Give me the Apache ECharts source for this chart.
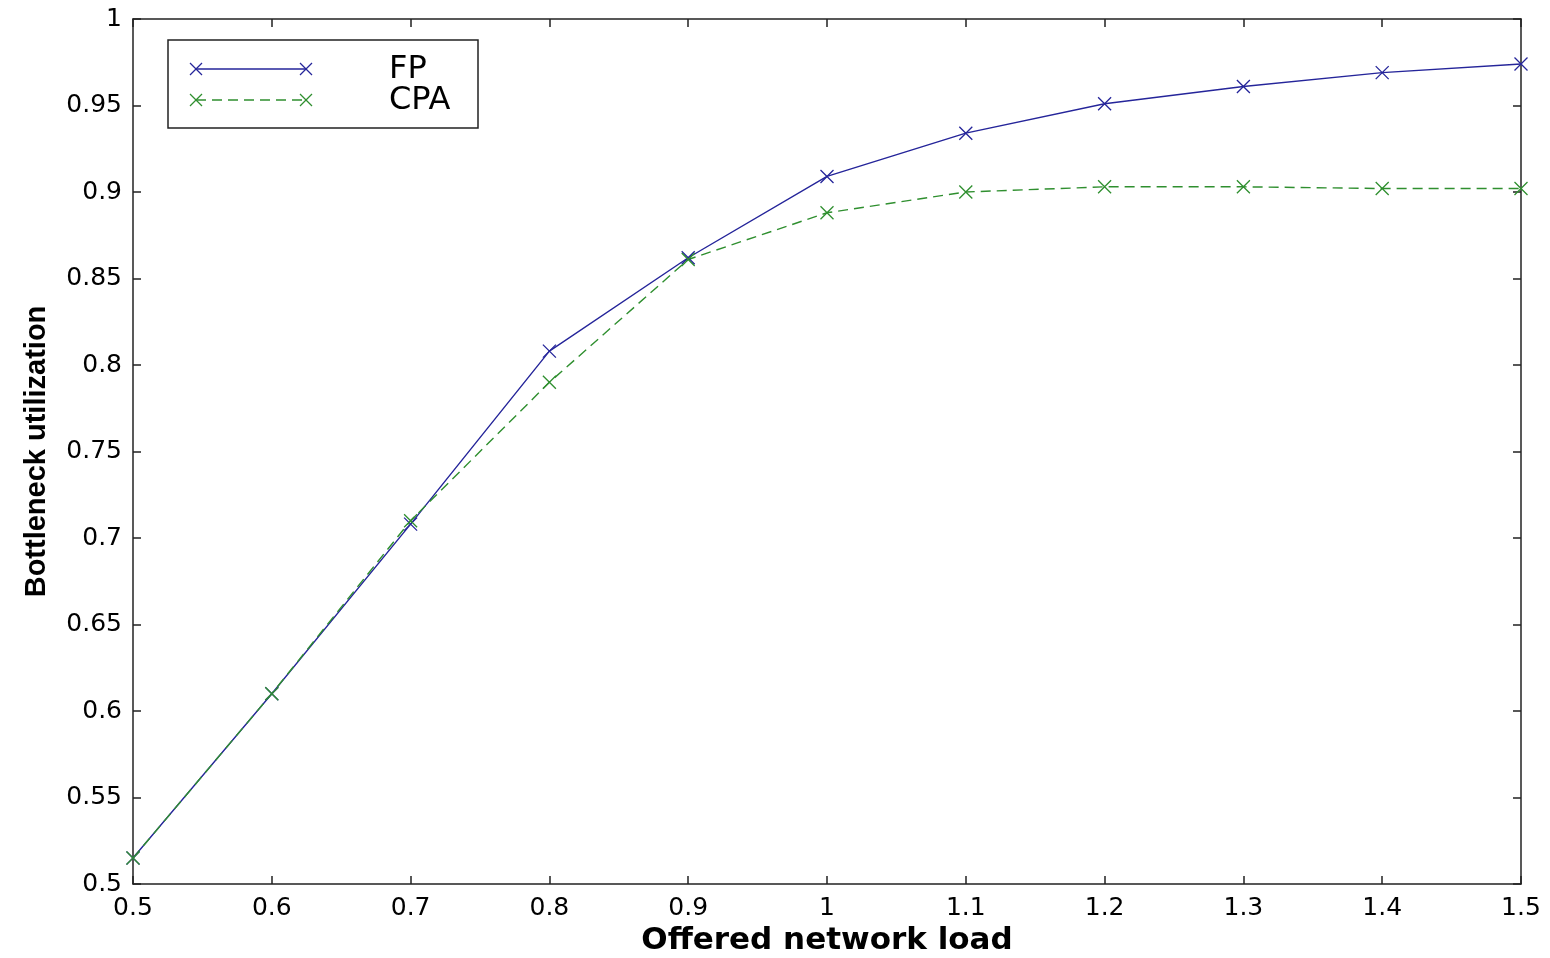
<!DOCTYPE html>
<html>
<head>
<meta charset="utf-8">
<script src="https://cdn.jsdelivr.net/npm/echarts@6/dist/echarts.min.js"></script>
<style>
  html, body { margin: 0; padding: 0; background: #fff; }
  #chart { width: 1550px; height: 958px; }
</style>
</head>
<body>
<div id="chart"></div>
<script>
// data
const loads = [0.5, 0.6, 0.7, 0.8, 0.9, 1.0, 1.1, 1.2, 1.3, 1.4, 1.5]
const fpValues = [0.515, 0.61, 0.708, 0.808, 0.862, 0.909, 0.934, 0.951, 0.961, 0.969, 0.974]
const cpaValues = [0.515, 0.61, 0.71, 0.790, 0.861, 0.888, 0.900, 0.903, 0.903, 0.902, 0.902]
const seriesNames = ['FP', 'CPA']

const FP_COLOR = '#25259a'
const CPA_COLOR = '#2f8f2f'
const crossSymbol = 'path://M0,0L10,10M10,0L0,10'
const wide = 'DejaVu Sans, sans-serif'
const plain = 'Liberation Sans, Arial, sans-serif'

const chart = echarts.init(document.getElementById('chart'))

const pairs = (ys) => loads.map((x, i) => [x, ys[i]])

const axisCommon = {
  axisLine: { show: true, lineStyle: { color: '#222', width: 1.5 } },
  axisTick: { show: true, inside: true, length: 8, lineStyle: { color: '#222', width: 1.5 } },
  splitLine: { show: false }
}

// legend drawn by hand: line with crosses at both ends, like the original
const legendY = [69, 100]
const legendColors = [FP_COLOR, CPA_COLOR]
const legendGraphics = [{
  type: 'rect',
  shape: { x: 168, y: 40, width: 310, height: 88 },
  style: { fill: '#fff', stroke: '#222', lineWidth: 1.5 },
  z: 10
}]
seriesNames.forEach((name, i) => {
  const y = legendY[i]
  const c = legendColors[i]
  legendGraphics.push({
    type: 'line',
    shape: { x1: 196, y1: y, x2: 306, y2: y },
    style: { stroke: c, lineWidth: 1.5, lineDash: i === 1 ? [10, 6] : null },
    z: 11
  })
  ;[196, 306].forEach(cx => {
    legendGraphics.push({
      type: 'line',
      shape: { x1: cx - 6, y1: y - 6, x2: cx + 6, y2: y + 6 },
      style: { stroke: c, lineWidth: 1.3 },
      z: 11
    }, {
      type: 'line',
      shape: { x1: cx + 6, y1: y - 6, x2: cx - 6, y2: y + 6 },
      style: { stroke: c, lineWidth: 1.3 },
      z: 11
    })
  })
  legendGraphics.push({
    type: 'text',
    x: 389, y: y + 1,
    style: { text: name, font: `32px ${wide}`, fill: '#000', verticalAlign: 'middle' },
    z: 11
  })
})

chart.setOption({
  backgroundColor: '#fff',
  animation: false,
  grid: { left: 133, right: 29, top: 19, bottom: 74, outerBoundsMode: 'none' },
  xAxis: [{
    type: 'value',
    min: 0.5, max: 1.5, interval: 0.1,
    name: 'Offered network load',
    nameLocation: 'middle',
    nameGap: 33,
    nameTextStyle: { fontFamily: wide, fontSize: 31, fontWeight: 'bold', color: '#000' },
    axisLabel: { fontFamily: wide, fontSize: 25, color: '#000', margin: 12 },
    ...axisCommon
  }, {
    type: 'value', position: 'top',
    min: 0.5, max: 1.5, interval: 0.1,
    axisLabel: { show: false },
    ...axisCommon
  }],
  yAxis: [{
    type: 'value',
    min: 0.5, max: 1, interval: 0.05,
    name: 'Bottleneck utilization',
    nameLocation: 'middle',
    nameGap: 82,
    nameTextStyle: { fontFamily: plain, fontSize: 29, fontWeight: 'bold', color: '#000' },
    axisLabel: { fontFamily: wide, fontSize: 25, color: '#000', margin: 11 },
    ...axisCommon
  }, {
    type: 'value', position: 'right',
    min: 0.5, max: 1, interval: 0.05,
    axisLabel: { show: false },
    ...axisCommon
  }],
  graphic: legendGraphics,
  series: [{
    name: seriesNames[0],
    type: 'line',
    data: pairs(fpValues),
    symbol: crossSymbol,
    symbolSize: 13,
    itemStyle: { color: 'transparent', borderColor: FP_COLOR, borderWidth: 1.3 },
    lineStyle: { color: FP_COLOR, width: 1.4 }
  }, {
    name: seriesNames[1],
    type: 'line',
    data: pairs(cpaValues),
    symbol: crossSymbol,
    symbolSize: 13,
    itemStyle: { color: 'transparent', borderColor: CPA_COLOR, borderWidth: 1.3 },
    lineStyle: { color: CPA_COLOR, width: 1.4, type: [10, 6] }
  }]
})
</script>
</body>
</html>
